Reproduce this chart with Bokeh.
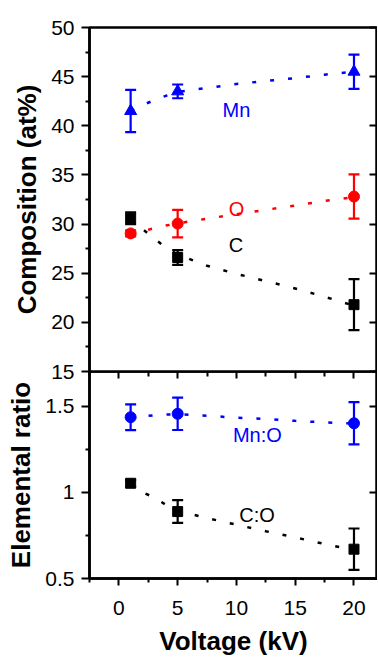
from bokeh.plotting import figure
from bokeh.layouts import column
from bokeh.models import (Range1d, LinearAxis, FixedTicker, Whisker, TeeHead,
                          ColumnDataSource, CustomJSTickFormatter)
from bokeh.embed import file_html
from bokeh.resources import INLINE

# ---------------- data ----------------
voltage = [1, 5, 20]

mn = [41.5, 43.5, 45.5]
mn_err = [2.15, 0.7, 1.75]
o_vals = [29.05, 30.05, 32.8]
o_err = [0.3, 1.4, 2.25]
c_vals = [30.6, 26.6, 21.8]
c_err = [0.6, 0.75, 2.6]

mno = [1.435, 1.455, 1.40]
mno_err = [0.075, 0.094, 0.122]
co = [1.052, 0.888, 0.67]
co_err = [0.02, 0.066, 0.12]

fit_x = [1, 2, 3, 4, 5, 7.5, 10, 12.5, 15, 17.5, 20]
mn_fit = [41.5, 42.1, 42.6, 43.05, 43.45, 43.85, 44.25, 44.56, 44.85, 45.2, 45.5]
o_fit = [29.0, 29.3, 29.57, 29.85, 30.07, 30.55, 31.0, 31.45, 31.88, 32.35, 32.75]
c_fit = [30.6, 29.5, 28.55, 27.6, 26.9, 25.76, 24.93, 24.2, 23.45, 22.6, 21.7]
mno_fit = [1.433, 1.44, 1.446, 1.45, 1.452, 1.444, 1.432, 1.425, 1.414, 1.405, 1.398]
co_fit = [1.05, 1.0, 0.97, 0.927, 0.893, 0.85, 0.812, 0.774, 0.738, 0.70, 0.665]

x_ticks = [0, 5, 10, 15, 20]
x_minor = [-2.5, 2.5, 7.5, 12.5, 17.5]
comp_ticks = [15, 20, 25, 30, 35, 40, 45, 50]
comp_minor = [17.5, 22.5, 27.5, 32.5, 37.5, 42.5, 47.5]
ratio_ticks = [0.5, 1.0, 1.5]
ratio_minor = [0.75, 1.25]

top_labels = ["Mn", "O", "C"]
top_label_x = [10.0, 10.0, 9.95]
top_label_y = [41.62, 31.52, 27.87]
top_label_colors = ["#0000FF", "#FF0000", "black"]
bot_labels = ["Mn:O", "C:O"]
bot_label_x = [11.78, 11.75]
bot_label_y = [1.33, 0.871]
bot_label_colors = ["#0000FF", "black"]

BLUE = "#0000FF"
RED = "#FF0000"
FONT = "Liberation Sans"

x_range = Range1d(-2.5, 22.0)


def style_axis(ax, ticks, minor, title, tick_out, standoff, title_standoff):
    ax.ticker = FixedTicker(ticks=ticks, minor_ticks=minor)
    ax.axis_label = title
    ax.axis_label_text_font = FONT
    ax.axis_label_text_font_style = "bold"
    ax.axis_label_text_font_size = "26px"
    ax.axis_label_text_color = "black"
    ax.axis_label_standoff = title_standoff
    ax.major_label_text_font = FONT
    ax.major_label_text_font_size = "21px"
    ax.major_label_text_color = "black"
    ax.major_label_standoff = standoff
    ax.axis_line_color = "black"
    ax.axis_line_width = 2.5
    ax.major_tick_out = tick_out
    ax.major_tick_in = 0
    ax.minor_tick_out = 4
    ax.minor_tick_in = 0
    ax.major_tick_line_color = "black"
    ax.minor_tick_line_color = "black"
    ax.major_tick_line_width = 2
    ax.minor_tick_line_width = 2


def add_blank_axis(p, ticks, minor, side, major_in, minor_in):
    ax = LinearAxis(ticker=FixedTicker(ticks=ticks, minor_ticks=minor))
    ax.major_label_text_color = None
    ax.major_label_text_font_size = "1px"
    ax.major_label_standoff = 0
    ax.major_tick_out = 0
    ax.major_tick_in = major_in
    ax.minor_tick_out = 0
    ax.minor_tick_in = minor_in
    ax.major_tick_line_color = "black"
    ax.minor_tick_line_color = "black"
    ax.major_tick_line_width = 2
    ax.minor_tick_line_width = 2
    ax.axis_line_color = "black"
    ax.axis_line_width = 2.5
    p.add_layout(ax, side)
    return ax


def base_fig(y0, y1, frame_h, **kw):
    p = figure(x_range=x_range, y_range=Range1d(y0, y1), frame_width=288,
               frame_height=frame_h, output_backend="svg", toolbar_location=None,
               min_border_left=89, min_border_right=0, **kw)
    p.xgrid.visible = False
    p.ygrid.visible = False
    p.outline_line_color = "black"
    p.outline_line_width = 2.5
    p.background_fill_color = "white"
    return p


def errorbars(p, xs, ys, errs, color):
    src = ColumnDataSource(dict(x=xs, lo=[y - e for y, e in zip(ys, errs)],
                                hi=[y + e for y, e in zip(ys, errs)]))
    w = Whisker(source=src, base="x", upper="hi", lower="lo", dimension="height",
                line_color=color, line_width=2.2,
                upper_head=TeeHead(size=11, line_color=color, line_width=2.2),
                lower_head=TeeHead(size=11, line_color=color, line_width=2.2))
    p.add_layout(w)


# ---------------- top panel ----------------
top = base_fig(15, 50, 344, x_axis_location=None, min_border_top=27, min_border_bottom=12)
top.border_fill_color = "white"
style_axis(top.yaxis[0], comp_ticks, comp_minor, "Composition (at%)", 8, 7, 6)
add_blank_axis(top, comp_ticks, [], "right", 8, 0)

for fy, col in ((mn_fit, BLUE), (o_fit, RED), (c_fit, "black")):
    top.line(fit_x, fy, line_color=col, line_width=2.5, line_dash="4 14")

errorbars(top, voltage, mn, mn_err, BLUE)
errorbars(top, voltage, o_vals, o_err, RED)
errorbars(top, voltage, c_vals, c_err, "black")

top.scatter(voltage, mn, marker="triangle", size=12, fill_color=BLUE, line_color=BLUE)
top.scatter(voltage, o_vals, marker="circle", size=11, fill_color=RED, line_color=RED)
top.scatter(voltage, c_vals, marker="square", size=10, fill_color="black", line_color="black")

top.text(x=top_label_x, y=top_label_y, text=top_labels, text_color=top_label_colors,
         text_font_size="20px", text_font={"value": FONT}, text_align="center",
         text_baseline="middle")

# ---------------- bottom panel ----------------
bot = base_fig(0.5, 1.7, 207, min_border_top=0)
bot.border_fill_color = None
bot.margin = (-12, 0, 0, 0)
below_ax = bot.below[0]
style_axis(bot.yaxis[0], ratio_ticks, ratio_minor, "Elemental ratio", 8, 7, 6)
bot.yaxis[0].formatter = CustomJSTickFormatter(code="return tick.toString();")
style_axis(below_ax, x_ticks, x_minor, "Voltage (kV)", 7, 15, 8)
add_blank_axis(bot, ratio_ticks, [], "right", 8, 0)
add_blank_axis(bot, x_ticks, x_minor, "above", 7, 5)

for fy, col in ((mno_fit, BLUE), (co_fit, "black")):
    bot.line(fit_x, fy, line_color=col, line_width=2.5, line_dash="4 14")

errorbars(bot, voltage, mno, mno_err, BLUE)
errorbars(bot, voltage, co, co_err, "black")

bot.scatter(voltage, mno, marker="circle", size=11, fill_color=BLUE, line_color=BLUE)
bot.scatter(voltage, co, marker="square", size=10, fill_color="black", line_color="black")

bot.text(x=bot_label_x, y=bot_label_y, text=bot_labels, text_color=bot_label_colors,
         text_font_size="20px", text_font={"value": FONT}, text_align="center",
         text_baseline="middle")

layout = column(top, bot, spacing=0)
open("out.html", "w").write(file_html(layout, INLINE))
